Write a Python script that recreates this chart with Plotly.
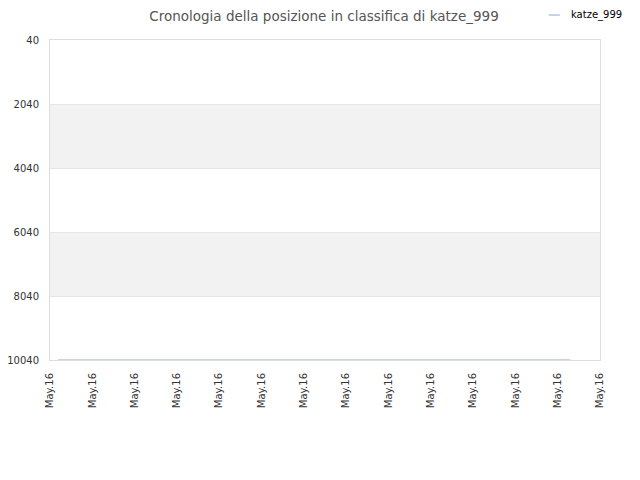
import plotly.graph_objects as go

# rank history of katze_999 (all on the same day)
x_pos = [0.19, 12.3]
ranks = [10040, 10040]
tick_pos = list(range(14))
tick_text = ["May.16"] * 14
y_ticks = [40, 2040, 4040, 6040, 8040, 10040]
y_text = [str(v) for v in y_ticks]
bands = [(2040, 4040), (6040, 8040)]
series_name = 'katze_999'
line_color = '#a8c8ec'

fig = go.Figure()
fig.add_trace(go.Scatter(
    x=x_pos, y=ranks, mode='lines', name=series_name,
    line=dict(color=line_color, width=1.5), showlegend=False,
))

# grey bands
for lo, hi in bands:
    fig.add_shape(type='rect', xref='paper', x0=0, x1=1, yref='y', y0=lo, y1=hi,
                  fillcolor='#f2f2f2', line_width=0, layer='below')

# small legend in the top right corner
fig.add_shape(type='line', xref='paper', yref='paper', x0=0.907, x1=0.927,
              y0=1.078, y1=1.078, line=dict(color=line_color, width=1.5))
fig.add_annotation(text=series_name, xref='paper', yref='paper', x=0.943, y=1.078,
                   xanchor='left', yanchor='middle', showarrow=False,
                   font=dict(size=10, color='black'))

# page has an 8px body margin, so the figure is a bit smaller than the window
fig.update_layout(
    width=632, height=472,
    margin=dict(l=42, r=40, t=32, b=120, autoexpand=False),
    paper_bgcolor='white', plot_bgcolor='white',
    font=dict(family='DejaVu Sans', size=10, color='#333'),
    title=dict(text='Cronologia della posizione in classifica di katze_999',
               x=0.5, xanchor='center', y=1 - 8 / 472, yanchor='middle',
               font=dict(size=13.5, color='#555')),
    xaxis=dict(range=[0, 13], tickvals=tick_pos, ticktext=tick_text, tickangle=-90,
               showgrid=False, zeroline=False, showline=True, linecolor='#ddd',
               mirror=True, ticks='', ticklabelstandoff=8, automargin=False,
               tickfont=dict(size=10, color='#333')),
    yaxis=dict(range=[10040, 40], tickvals=y_ticks, ticktext=y_text,
               showgrid=True, gridcolor='#e6e6e6',
               zeroline=False, showline=True, linecolor='#ddd', mirror=True,
               ticks='', ticklabelstandoff=8, automargin=False,
               tickfont=dict(size=10, color='#333')),
)

fig.write_html("out.html")
